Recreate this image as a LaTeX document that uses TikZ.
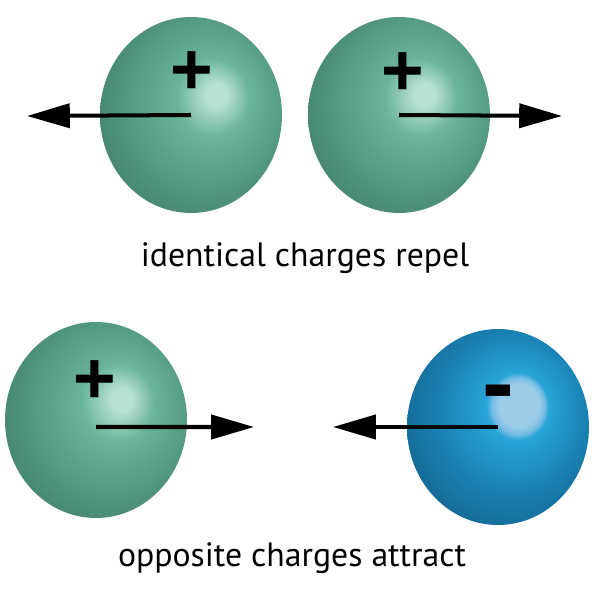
\documentclass[tikz,border=0pt]{standalone}
\usepackage{fontspec}
\setmainfont{PT Sans}
\newfontfamily\signfont{Liberation Sans}
\usetikzlibrary{arrows.meta, positioning, shapes.geometric}

\definecolor{gHi}{RGB}{182,224,208}
\definecolor{gMid}{RGB}{106,180,154}
\definecolor{gBody}{RGB}{84,154,132}
\definecolor{gDark}{RGB}{58,118,98}
\definecolor{bHi}{RGB}{156,204,232}
\definecolor{bEdge}{RGB}{120,190,228}
\definecolor{bMid}{RGB}{40,164,214}
\definecolor{bBody}{RGB}{26,130,180}
\definecolor{bDark}{RGB}{16,90,130}

% highlight sits up and to the right of the ball centre
\pgfdeclareradialshading{greenball}{\pgfpoint{7.5bp}{5.5bp}}{%
  color(0bp)=(gHi); color(3bp)=(gHi); color(10bp)=(gMid);
  color(21bp)=(gBody); color(37bp)=(gDark); color(50bp)=(gDark)}
\pgfdeclareradialshading{blueball}{\pgfpoint{6.5bp}{6.3bp}}{%
  color(0bp)=(bHi); color(5.5bp)=(bHi); color(7.2bp)=(bEdge); color(8.6bp)=(bMid);
  color(20bp)=(bBody); color(36bp)=(bDark); color(50bp)=(bDark)}

\begin{document}
\begin{tikzpicture}[
    ball/.style={ellipse, minimum width=4.55cm, minimum height=4.9cm,
                 inner sep=0pt, shading=greenball},
    negball/.style={ball, shading=blueball},
    charge/.style={font=\signfont\fontsize{52}{52}\selectfont\bfseries, inner sep=0pt},
    caption/.style={font=\fontsize{24}{28}\selectfont, anchor=base},
    force/.style={line width=2.85pt, -{Triangle[length=1.07cm, width=0.6cm]}}
  ]
  \useasboundingbox (0,0) rectangle (15,15);

  % Like charges (top row)
  \node[ball] (pA) at (4.775, 12.125) {};
  \node[ball] (pB) at (9.975, 12.125) {};
  \node[charge] (qA) at (4.8, 13.175) {+};
  \node[charge] (qB) at (10.075, 13.15) {+};
  \coordinate (fA) at (0.675, 12.1);
  \coordinate (fB) at (14.05, 12.1);
  \draw[force] (pA.center) -- (fA);
  \draw[force] (pB.center) -- (fB);
  \node[caption] (likes) at (7.625, 8.325) {identical charges repel};

  % Opposite charges (bottom row)
  \node[ball] (pC) at (2.4, 4.5) {};
  \node[negball] (pD) at (12.45, 4.325) {};
  \node[charge] (qC) at (2.375, 5.45) {+};
  \node[charge, font=\signfont\fontsize{68}{68}\selectfont\bfseries, anchor=base]
    (qD) at (12.45, 4.6) {-};
  \coordinate (fC) at (6.35, 4.325);
  \coordinate (fD) at (8.325, 4.325);
  \draw[force] ([yshift=-0.175cm]pC.center) -- (fC);
  \draw[force] (pD.center) -- (fD);
  \node[caption] (unlikes) at (7.3, 0.825) {opposite charges attract};
\end{tikzpicture}
\end{document}
